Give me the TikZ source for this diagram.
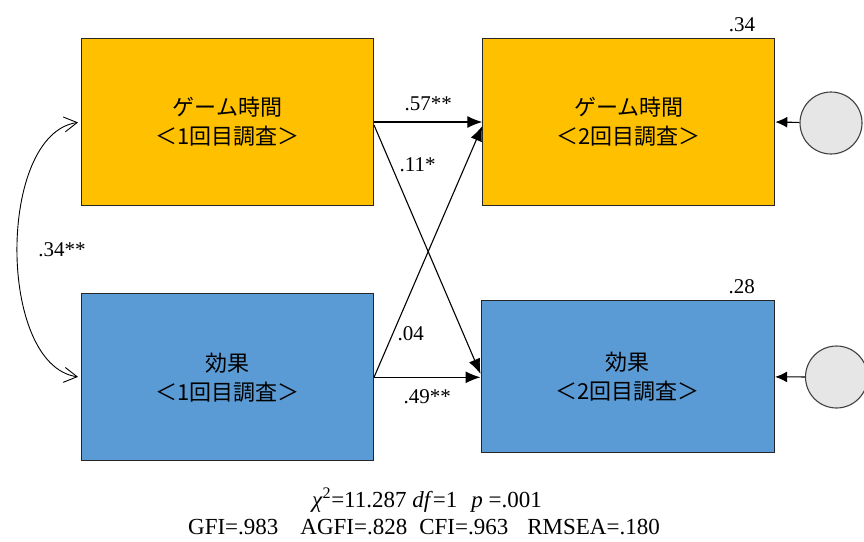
\documentclass[tikz,border=0pt]{standalone}
\usepackage{fontspec}
\setmainfont{Liberation Serif}
\newfontfamily\jpfont{Noto Sans CJK JP}
\usepackage{xcolor}
\usetikzlibrary{arrows.meta, positioning}
\definecolor{gameorange}{HTML}{FFC000}
\definecolor{effectblue}{HTML}{5B9BD5}
\definecolor{errgray}{HTML}{E6E6E6}

\begin{document}
\begin{tikzpicture}[x=1pt, y=-1pt, >={Latex[length=15pt, width=12pt]},
    varbox/.style={draw=black!85, line width=1pt, minimum width=292pt, minimum height=167pt,
        inner sep=0pt, align=center, font=\jpfont\fontsize{22}{29}\selectfont},
    errnode/.style={circle, draw=black!75, line width=1.1pt, fill=errgray, minimum size=62pt, inner sep=0pt},
    coef/.style={inner sep=2pt, font=\fontsize{21}{24}\selectfont},
    link/.style={->, line width=1.1pt},
    barb/.tip={Straight Barb[length=13pt, width=15pt]}]
    \useasboundingbox (0,0) rectangle (864,541);
    \clip (0,0) rectangle (864,541);

    % Bien quan sat: lan 1 (trai) va lan 2 (phai)
    \node[varbox, fill=gameorange] (game1) at (227.5,122) {ゲーム時間\\＜1回目調査＞};
    \node[varbox, fill=effectblue] (eff1) at (227.5,377.3) {効果\\＜1回目調査＞};
    \node[varbox, fill=gameorange] (game2) at (628.8,122) {ゲーム時間\\＜2回目調査＞};
    \node[varbox, fill=effectblue, minimum width=293.6pt, minimum height=152pt] (eff2) at (627.8,376.9) {効果\\＜2回目調査＞};

    % Sai so
    \node[errnode] (err1) at (831,123) {};
    \node[errnode] (err2) at (836.5,377) {};
    \draw[->, line width=1.1pt, >={Latex[length=12pt, width=11pt]}] (err1) -- (game2.east);
    \draw[->, line width=1.1pt, >={Latex[length=12pt, width=11pt]}] (err2) -- (eff2.east);

    % He so R^2
    \node[coef, anchor=south east] (rsq1) at ([xshift=-18pt, yshift=4pt]game2.north east) {.34};
    \node[coef, anchor=south east] (rsq2) at ([xshift=-18pt, yshift=4pt]eff2.north east) {.28};

    % Duong dan
    \draw[link] (game1.east) -- node[coef, above=9pt] (p57) {.57**} (game2.west);
    \draw[link] ([yshift=-3pt]game1.east) -- node[coef, pos=0.16, right=6pt] (p11) {.11*} ([yshift=3pt]eff2.west);
    \draw[link] (eff1.east) -- node[coef, pos=0.175, right=2pt] (p04) {.04} ([yshift=-4pt]game2.west);
    \draw[link] (eff1.east) -- node[coef, below=10pt] (p49) {.49**} (eff1.east -| eff2.west);

    % Tuong quan
    \draw[barb-barb, line width=0.9pt, shorten <=3pt, shorten >=3pt]
        (game1.west) .. controls +(-84,12) and +(-84,-12) .. (eff1.west)
        node[coef, midway, right=18pt] (r34) {.34**};

    % Chi so phu hop
    \node[font=\fontsize{23}{27}\selectfont, inner sep=0pt] (fitline) at (427,500)
        {\textit{χ}\textsuperscript{2}=11.287 \textit{df}=1\hspace{14pt}\textit{p} =.001};
    \node[font=\fontsize{23}{27}\selectfont, inner sep=0pt] (idxline) at (424,527.5)
        {GFI=.983\hspace{22pt}AGFI=.828\hspace{12pt}CFI=.963\hspace{19pt}RMSEA=.180};
\end{tikzpicture}
\end{document}
